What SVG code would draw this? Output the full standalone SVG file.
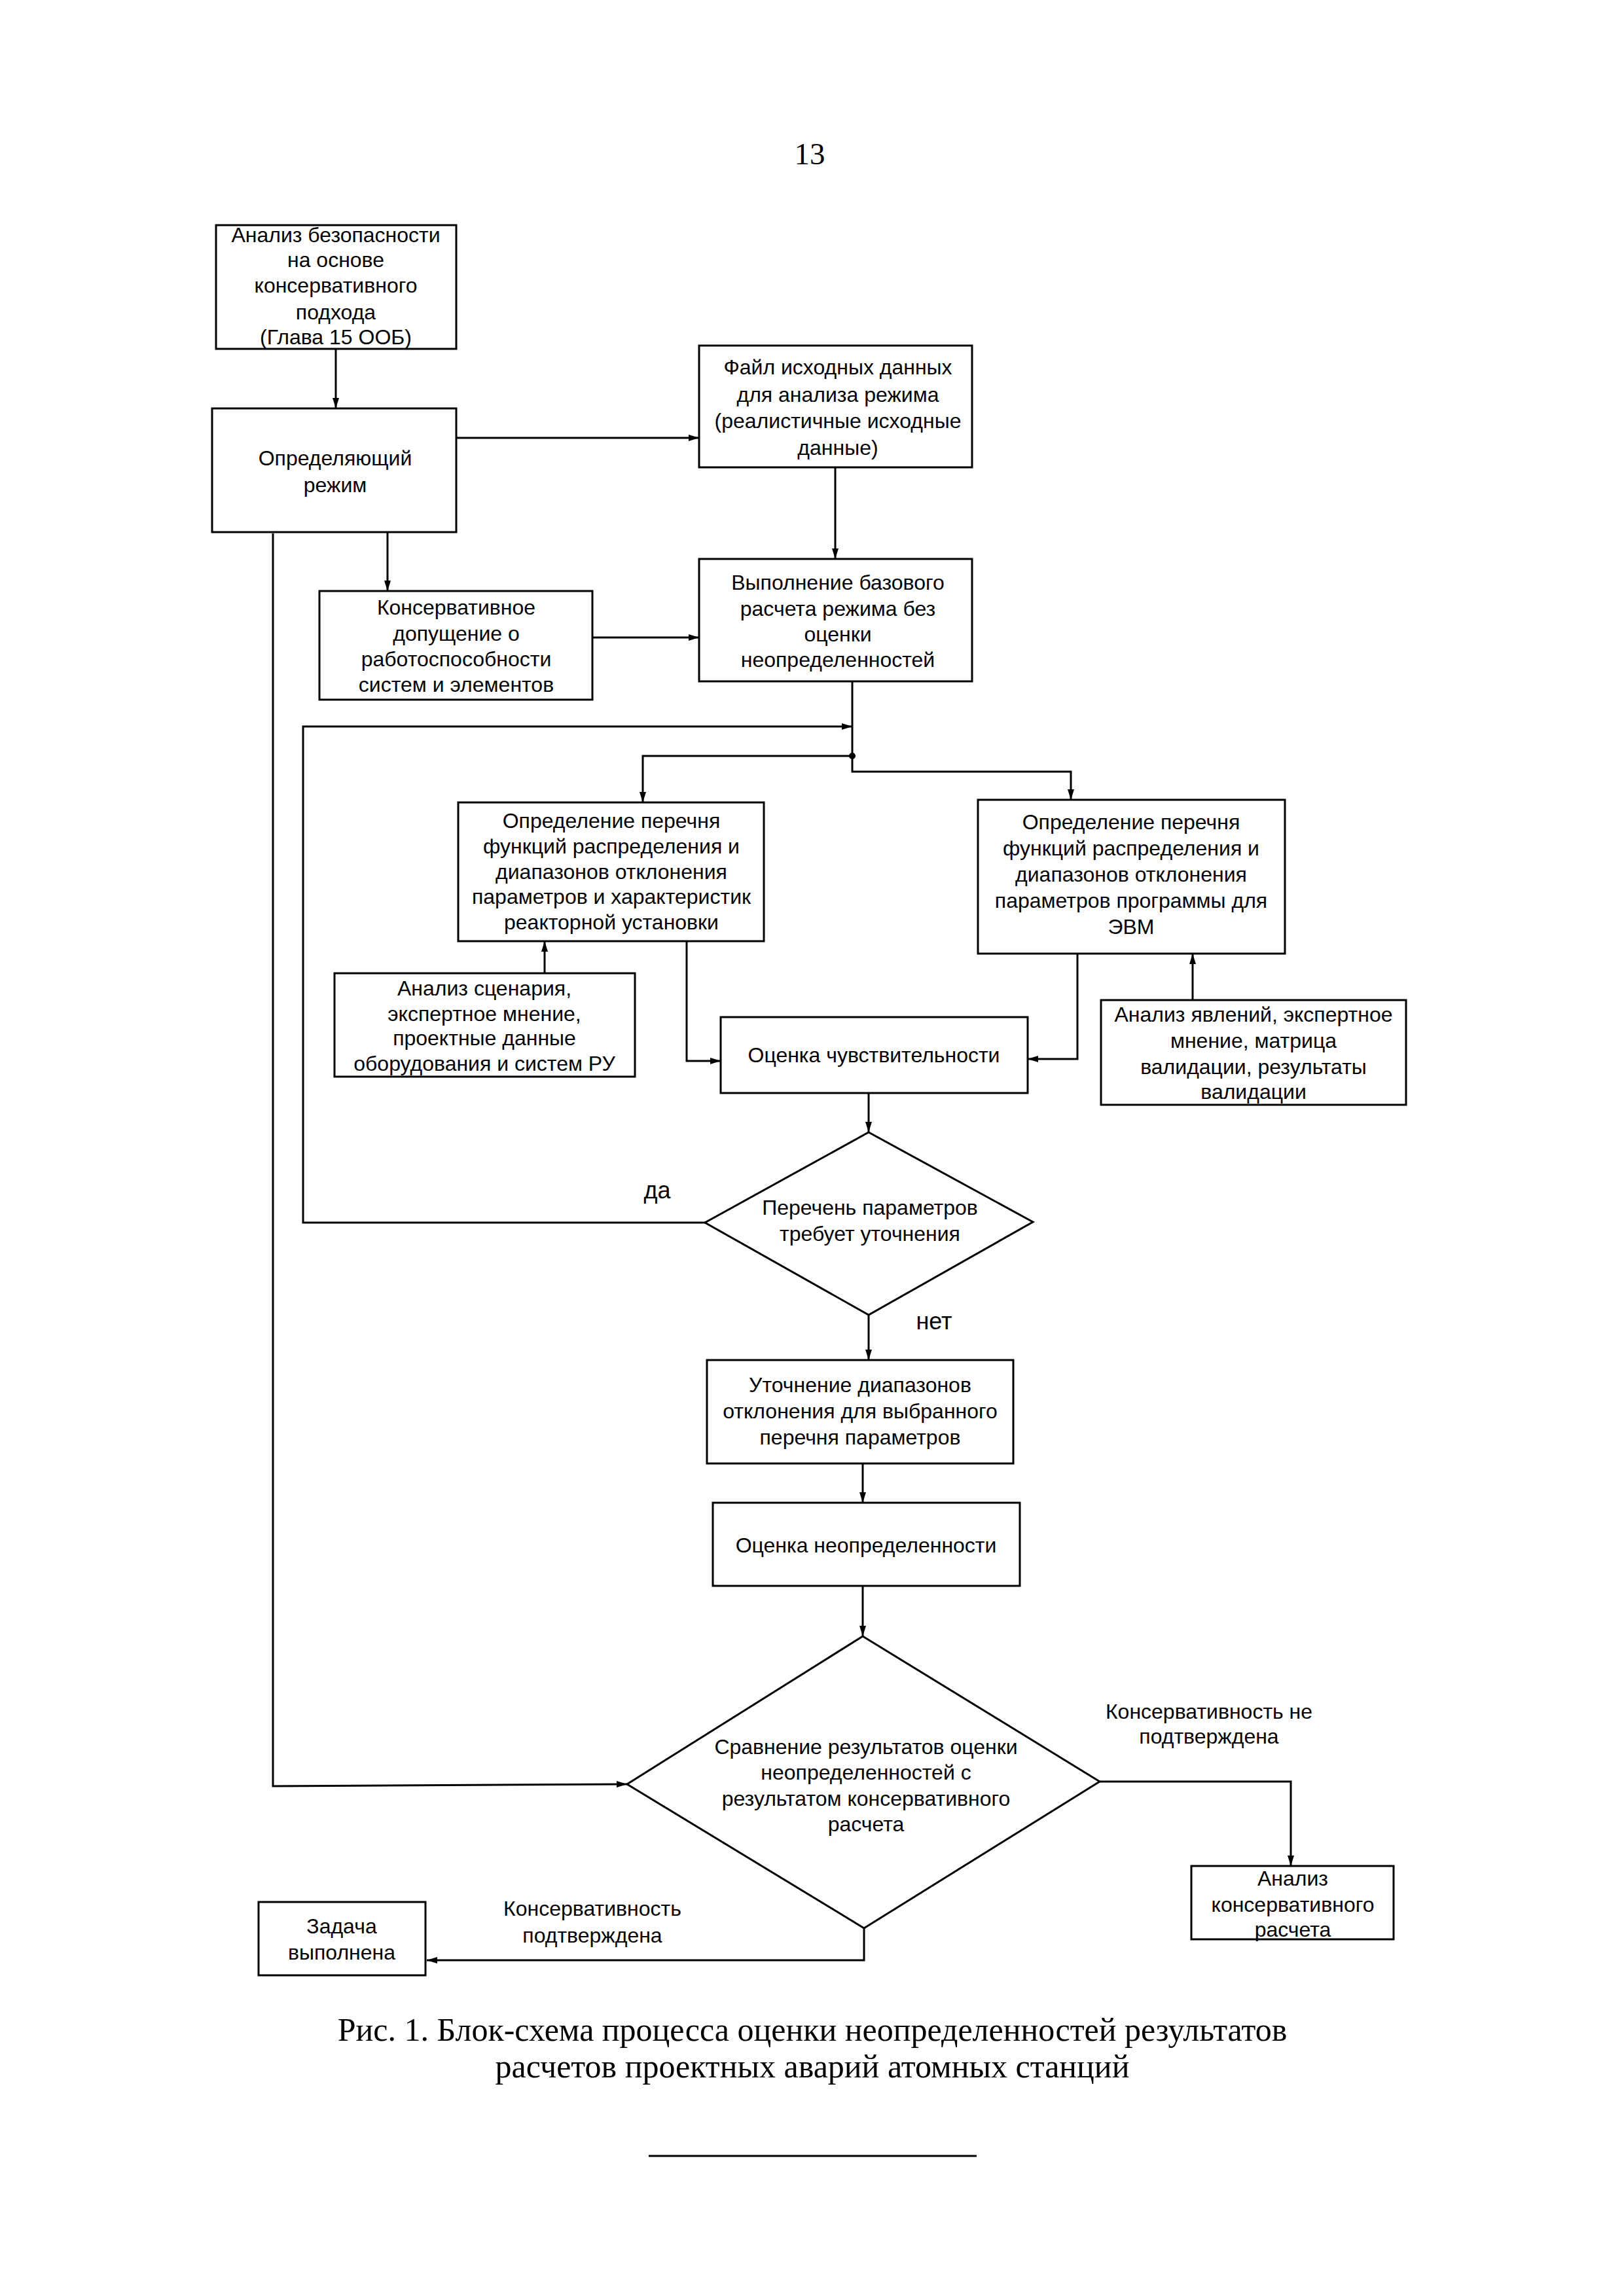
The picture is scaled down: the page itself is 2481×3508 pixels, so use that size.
<svg xmlns="http://www.w3.org/2000/svg" width="2481" height="3508" viewBox="0 0 2481 3508">
<style>
.box{fill:#fff;stroke:#000;stroke-width:3}
.t{font-family:"Liberation Sans",Arial,sans-serif;font-size:32px;fill:#000;text-anchor:middle}
.lbl{font-family:"Liberation Sans",Arial,sans-serif;font-size:32px;fill:#000;text-anchor:middle}
.cap{font-family:"Liberation Serif","Times New Roman",serif;font-size:50px;fill:#000;text-anchor:middle}
.c{fill:none;stroke:#000;stroke-width:3}
</style>
<defs>
<marker id="ar" viewBox="0 0 16 10" refX="16" refY="5" markerWidth="16" markerHeight="10" markerUnits="userSpaceOnUse" orient="auto">
<path d="M0,0 L16,5 L0,10 z" fill="#000"/>
</marker>
</defs>
<rect width="2481" height="3508" fill="#fff"/>
<text class="cap" x="1237" y="251" style="font-size:47px">13</text>

<g id="connectors">
<path class="c" d="M513,533 L513,624" marker-end="url(#ar)"/>
<path class="c" d="M697,669 L1068,669" marker-end="url(#ar)"/>
<path class="c" d="M1276,714 L1276,854" marker-end="url(#ar)"/>
<path class="c" d="M592,813 L592,903" marker-end="url(#ar)"/>
<path class="c" d="M905,974 L1068,974" marker-end="url(#ar)"/>
<path class="c" d="M1302,1041 L1302,1155"/>
<path class="c" d="M1077,1868 L463,1868 L463,1110 L1302,1110" marker-end="url(#ar)"/>
<path class="c" d="M1302,1155 L982,1155 L982,1226" marker-end="url(#ar)"/>
<path class="c" d="M1302,1155 L1302,1179 L1636,1179 L1636,1222" marker-end="url(#ar)"/>
<circle cx="1302" cy="1155" r="5" fill="#000"/>
<path class="c" d="M832,1487 L832,1438" marker-end="url(#ar)"/>
<path class="c" d="M1049,1438 L1049,1621 L1101,1621" marker-end="url(#ar)"/>
<path class="c" d="M1646,1457 L1646,1618 L1570,1618" marker-end="url(#ar)"/>
<path class="c" d="M1822,1528 L1822,1457" marker-end="url(#ar)"/>
<path class="c" d="M1327,1670 L1327,1730" marker-end="url(#ar)"/>
<path class="c" d="M1327,2009 L1327,2078" marker-end="url(#ar)"/>
<path class="c" d="M1318,2236 L1318,2296" marker-end="url(#ar)"/>
<path class="c" d="M1318,2423 L1318,2500" marker-end="url(#ar)"/>
<path class="c" d="M417,815 L417,2729 L958,2726" marker-end="url(#ar)"/>
<path class="c" d="M1680,2722 L1972,2722 L1972,2851" marker-end="url(#ar)"/>
<path class="c" d="M1320,2946 L1320,2995 L652,2995" marker-end="url(#ar)"/>
</g>

<g id="n1"><rect class="box" x="330" y="344" width="367" height="189"/>
<text class="t"><tspan x="513" y="370">Анализ безопасности</tspan><tspan x="513" y="408">на основе</tspan><tspan x="513" y="447">консервативного</tspan><tspan x="513" y="488">подхода</tspan><tspan x="513" y="526">(Глава 15 ООБ)</tspan></text></g>

<g id="n2"><rect class="box" x="324" y="624" width="373" height="189"/>
<text class="t"><tspan x="512" y="711">Определяющий</tspan><tspan x="512" y="752">режим</tspan></text></g>

<g id="n3"><rect class="box" x="1068" y="528" width="417" height="186"/>
<text class="t"><tspan x="1280" y="572">Файл исходных данных</tspan><tspan x="1280" y="614">для анализа режима</tspan><tspan x="1280" y="654">(реалистичные исходные</tspan><tspan x="1280" y="695">данные)</tspan></text></g>

<g id="n4"><rect class="box" x="1068" y="854" width="417" height="187"/>
<text class="t"><tspan x="1280" y="901">Выполнение базового</tspan><tspan x="1280" y="941">расчета режима без</tspan><tspan x="1280" y="980">оценки</tspan><tspan x="1280" y="1019">неопределенностей</tspan></text></g>

<g id="n5"><rect class="box" x="488" y="903" width="417" height="166"/>
<text class="t"><tspan x="697" y="939">Консервативное</tspan><tspan x="697" y="979">допущение о</tspan><tspan x="697" y="1018">работоспособности</tspan><tspan x="697" y="1057">систем и элементов</tspan></text></g>

<g id="n6"><rect class="box" x="700" y="1226" width="467" height="212"/>
<text class="t"><tspan x="934" y="1265">Определение перечня</tspan><tspan x="934" y="1304">функций распределения и</tspan><tspan x="934" y="1343">диапазонов отклонения</tspan><tspan x="934" y="1381">параметров и характеристик</tspan><tspan x="934" y="1420">реакторной установки</tspan></text></g>

<g id="n7"><rect class="box" x="1494" y="1222" width="469" height="235"/>
<text class="t"><tspan x="1728" y="1267">Определение перечня</tspan><tspan x="1728" y="1307">функций распределения и</tspan><tspan x="1728" y="1347">диапазонов отклонения</tspan><tspan x="1728" y="1387">параметров программы для</tspan><tspan x="1728" y="1427">ЭВМ</tspan></text></g>

<g id="n8"><rect class="box" x="511" y="1487" width="459" height="158"/>
<text class="t"><tspan x="740" y="1521">Анализ сценария,</tspan><tspan x="740" y="1560">экспертное мнение,</tspan><tspan x="740" y="1597">проектные данные</tspan><tspan x="740" y="1636">оборудования и систем РУ</tspan></text></g>

<g id="n9"><rect class="box" x="1101" y="1554" width="469" height="116"/>
<text class="t"><tspan x="1335" y="1623">Оценка чувствительности</tspan></text></g>

<g id="n10"><rect class="box" x="1682" y="1528" width="466" height="160"/>
<text class="t"><tspan x="1915" y="1561">Анализ явлений, экспертное</tspan><tspan x="1915" y="1601">мнение, матрица</tspan><tspan x="1915" y="1641">валидации, результаты</tspan><tspan x="1915" y="1679">валидации</tspan></text></g>

<g id="n11"><path class="box" d="M1327,1730 L1578,1867 L1327,2009 L1077,1868 z"/>
<text class="t"><tspan x="1329" y="1856">Перечень параметров</tspan><tspan x="1329" y="1896">требует уточнения</tspan></text></g>

<g id="n12"><rect class="box" x="1080" y="2078" width="468" height="158"/>
<text class="t"><tspan x="1314" y="2127">Уточнение диапазонов</tspan><tspan x="1314" y="2167">отклонения для выбранного</tspan><tspan x="1314" y="2207">перечня параметров</tspan></text></g>

<g id="n13"><rect class="box" x="1089" y="2296" width="469" height="127"/>
<text class="t"><tspan x="1323" y="2372">Оценка неопределенности</tspan></text></g>

<g id="n14"><path class="box" d="M1318,2500 L1680,2722 L1320,2946 L958,2726 z"/>
<text class="t"><tspan x="1323" y="2680">Сравнение результатов оценки</tspan><tspan x="1323" y="2719">неопределенностей с</tspan><tspan x="1323" y="2759">результатом консервативного</tspan><tspan x="1323" y="2798">расчета</tspan></text></g>

<g id="n15"><rect class="box" x="1820" y="2851" width="309" height="112"/>
<text class="t"><tspan x="1975" y="2881">Анализ</tspan><tspan x="1975" y="2921">консервативного</tspan><tspan x="1975" y="2959">расчета</tspan></text></g>

<g id="n16"><rect class="box" x="395" y="2906" width="255" height="112"/>
<text class="t"><tspan x="522" y="2954">Задача</tspan><tspan x="522" y="2994">выполнена</tspan></text></g>

<g id="labels">
<text class="lbl" x="1004" y="1831" style="font-size:36px">да</text>
<text class="lbl" x="1427" y="2031" style="font-size:36px">нет</text>
<text class="lbl"><tspan x="1847" y="2626">Консервативность не</tspan><tspan x="1847" y="2664">подтверждена</tspan></text>
<text class="lbl"><tspan x="905" y="2927">Консервативность</tspan><tspan x="905" y="2968">подтверждена</tspan></text>
</g>

<text class="cap"><tspan x="1241" y="3118">Рис. 1. Блок-схема процесса оценки неопределенностей результатов</tspan><tspan x="1241" y="3174">расчетов проектных аварий атомных станций</tspan></text>
<line x1="991" y1="3294" x2="1492" y2="3294" stroke="#000" stroke-width="3"/>
</svg>
